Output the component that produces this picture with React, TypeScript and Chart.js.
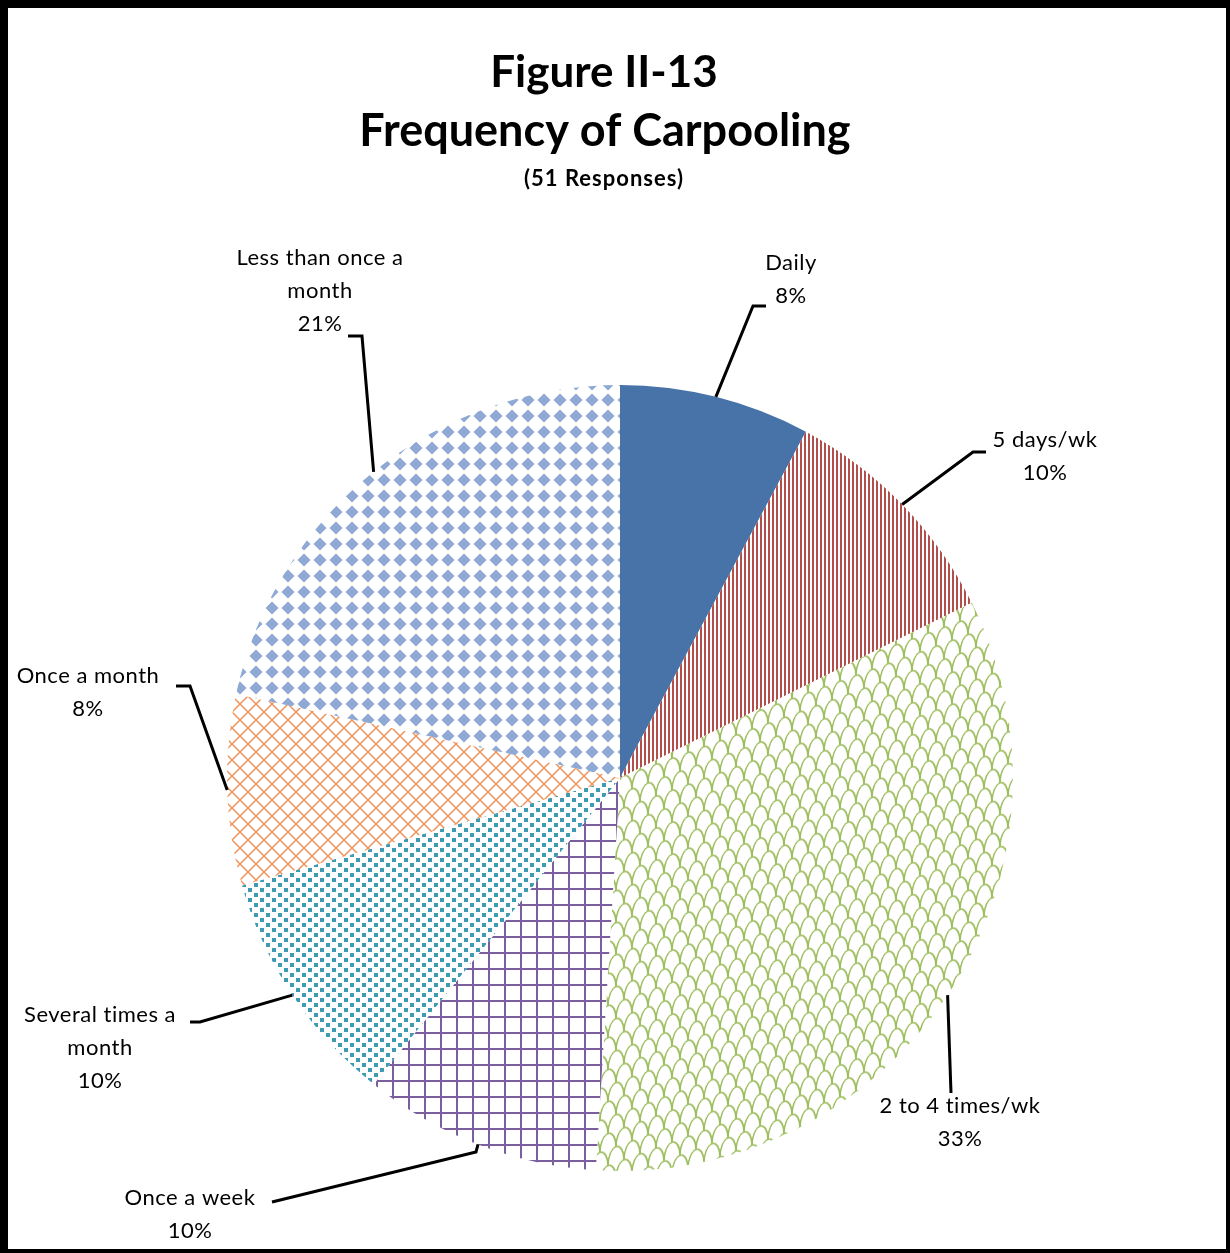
import React, { useEffect, useRef } from "react";
import { Chart, registerables } from "chart.js";

Chart.register(...registerables);

const CATEGORIES = [
  "Daily",
  "5 days/wk",
  "2 to 4 times/wk",
  "Once a week",
  "Several times a month",
  "Once a month",
  "Less than once a month",
];
const LABEL_LINES = [
  ["Daily"],
  ["5 days/wk"],
  ["2 to 4 times/wk"],
  ["Once a week"],
  ["Several times a", "month"],
  ["Once a month"],
  ["Less than once a", "month"],
];
const RESPONSES = [4, 5, 17, 5, 5, 4, 11];
const PERCENT_LABELS = ["8%", "10%", "33%", "10%", "10%", "8%", "21%"];
const TITLE_LINES = ["Figure II-13", "Frequency of Carpooling"];
const SUBTITLE = "(51 Responses)";

// Label placement (page coordinates): leader elbow, leader end, text centre x, first line y
const OFF = 8;
const LABEL_LAYOUT = [
  { elbow: [753, 306], end: [766, 306], tx: 791, ty: 263 },
  { elbow: [973, 452], end: [986, 452], tx: 1045, ty: 440 },
  { elbow: [951, 1093], end: [951, 1093], tx: 960, ty: 1106 },
  { elbow: [476, 1152], end: [272, 1202], tx: 190, ty: 1198 },
  { elbow: [200, 1022], end: [190, 1022], tx: 100, ty: 1015 },
  { elbow: [190, 686], end: [176, 686], tx: 88, ty: 676 },
  { elbow: [362, 336], end: [348, 336], tx: 320, ty: 258 },
];

function tile(
  w: number,
  h: number,
  draw: (c: CanvasRenderingContext2D) => void,
  m?: DOMMatrix
) {
  const cv = document.createElement("canvas");
  cv.width = w;
  cv.height = h;
  const c = cv.getContext("2d")!;
  c.fillStyle = "#ffffff";
  c.fillRect(0, 0, w, h);
  draw(c);
  const p = c.createPattern(cv, "repeat")!;
  if (m) p.setTransform(m);
  return p;
}

function makeFills() {
  const solid = "#4773A8";
  const stripes = tile(4, 4, (c) => {
    c.fillStyle = "#B24F4C";
    c.fillRect(0, 0, 2, 4);
  });
  const shingle = tile(
    16,
    32,
    (c) => {
      c.strokeStyle = "#9DBE5E";
      c.lineWidth = 1.6;
      const half = (cx: number, cy: number) => {
        c.beginPath();
        c.ellipse(cx, cy, 8, 16, 0, Math.PI, 2 * Math.PI);
        c.stroke();
      };
      half(8, 16);
      half(8, 48);
      half(0, 32);
      half(16, 32);
      half(0, 0);
      half(16, 0);
    },
    new DOMMatrix().skewY(-20)
  );
  const grid = tile(16, 16, (c) => {
    c.fillStyle = "#7A5E9E";
    c.fillRect(0, 0, 16, 2);
    c.fillRect(0, 0, 2, 16);
  });
  const dots = tile(12, 10, (c) => {
    c.fillStyle = "#3E9BB2";
    c.fillRect(0, 0, 4, 4);
    c.fillRect(6, 5, 4, 4);
  });
  const cross = tile(16, 16, (c) => {
    c.strokeStyle = "#F0935A";
    c.lineWidth = 1.5;
    c.beginPath();
    c.moveTo(0, 0);
    c.lineTo(16, 16);
    c.moveTo(16, 0);
    c.lineTo(0, 16);
    c.stroke();
  });
  const diamonds = tile(16, 16, (c) => {
    c.fillStyle = "#8EA9D3";
    c.beginPath();
    c.moveTo(8, 1.5);
    c.lineTo(14.5, 8);
    c.lineTo(8, 14.5);
    c.lineTo(1.5, 8);
    c.closePath();
    c.fill();
  });
  return [solid, stripes, shingle, grid, dots, cross, diamonds];
}

const FONT = "Lato, 'Open Sans', sans-serif";

const labelPlugin = {
  id: "carpoolLabels",
  afterDatasetsDraw(chart: any) {
    const ctx: CanvasRenderingContext2D = chart.ctx;
    const meta = chart.getDatasetMeta(0);
    ctx.save();
    // titles
    ctx.fillStyle = "#000";
    ctx.textAlign = "center";
    ctx.textBaseline = "middle";
    ctx.font = `bold 44px ${FONT}`;
    ctx.fillText(TITLE_LINES[0], 604 - OFF, 73 - OFF);
    ctx.font = `bold 45px ${FONT}`;
    ctx.fillText(TITLE_LINES[1], 605 - OFF, 131 - OFF);
    ctx.font = `bold 22px ${FONT}`;
    (ctx as any).letterSpacing = "1px";
    ctx.fillText(SUBTITLE, 604 - OFF, 179 - OFF);
    (ctx as any).letterSpacing = "0.5px";

    meta.data.forEach((arc: any, i: number) => {
      const p = arc.getProps(["x", "y", "startAngle", "endAngle", "outerRadius"], true);
      const mid = (p.startAngle + p.endAngle) / 2;
      const sx = p.x + Math.cos(mid) * p.outerRadius;
      const sy = p.y + Math.sin(mid) * p.outerRadius;
      const L = LABEL_LAYOUT[i];
      ctx.strokeStyle = "#000";
      ctx.lineWidth = 3;
      ctx.lineJoin = "miter";
      ctx.beginPath();
      ctx.moveTo(sx, sy);
      ctx.lineTo(L.elbow[0] - OFF, L.elbow[1] - OFF);
      ctx.lineTo(L.end[0] - OFF, L.end[1] - OFF);
      ctx.stroke();
      ctx.font = `22px ${FONT}`;
      ctx.fillStyle = "#000";
      const lines = [...LABEL_LINES[i], PERCENT_LABELS[i]];
      lines.forEach((t, k) => {
        ctx.fillText(t, L.tx - OFF, L.ty - OFF + k * 33);
      });
    });
    ctx.restore();
  },
};

export default function App() {
  const ref = useRef<HTMLCanvasElement>(null);
  useEffect(() => {
    if (!ref.current) return;
    const chart = new Chart(ref.current, {
      type: "pie",
      data: {
        labels: CATEGORIES,
        datasets: [
          {
            data: RESPONSES,
            backgroundColor: makeFills() as any,
            borderWidth: 0,
          },
        ],
      },
      options: {
        animation: false,
        responsive: false,
        events: [],
        layout: { padding: { left: 219, right: 213, top: 377, bottom: 78 } },
        plugins: {
          legend: { display: false },
          tooltip: { enabled: false },
          title: { display: false },
        },
      },
      plugins: [labelPlugin],
    });
    return () => chart.destroy();
  }, []);
  return (
    <div
      style={{
        position: "absolute",
        left: 0,
        top: 0,
        width: 1230,
        height: 1253,
        boxSizing: "border-box",
        borderLeft: "8px solid #000",
        borderTop: "8px solid #000",
        borderRight: "4px solid #000",
        borderBottom: "4px solid #000",
        background: "#fff",
      }}
    >
      <canvas ref={ref} width={1218} height={1241} style={{ display: "block" }} />
    </div>
  );
}
